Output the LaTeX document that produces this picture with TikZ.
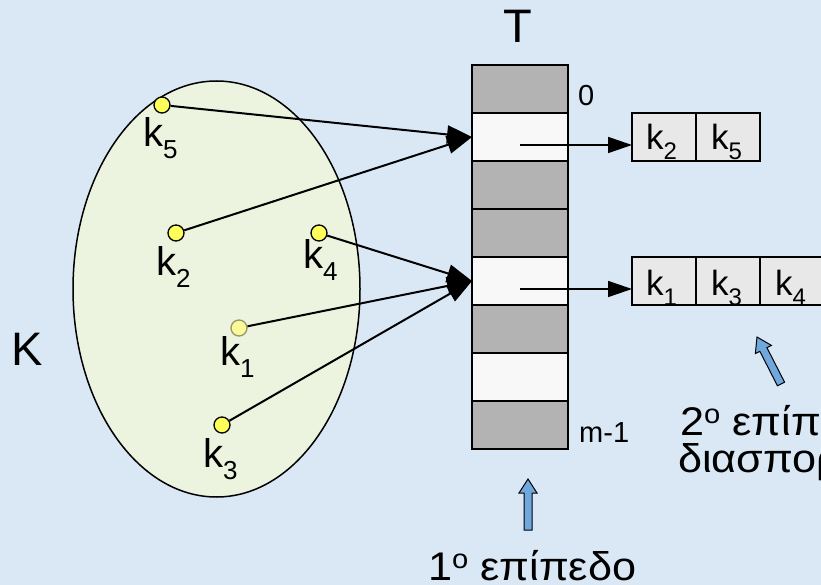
\documentclass[tikz,border=0pt]{standalone}
\usepackage{fontspec}
\setmainfont{Liberation Sans}
\usetikzlibrary{arrows.meta,calc,shapes.geometric}

\definecolor{bg}{RGB}{218,232,246}
\definecolor{ellfill}{RGB}{236,243,222}
\definecolor{rowgrey}{RGB}{179,179,179}
\definecolor{rowwhite}{RGB}{248,248,248}
\definecolor{cellgrey}{RGB}{232,232,232}
\definecolor{dotyellow}{RGB}{255,255,90}
\definecolor{dotpale}{RGB}{250,250,150}
\definecolor{dotrim}{RGB}{150,150,110}
\definecolor{blockblue}{RGB}{111,168,220}

% key in the set K (larger) and key in an overflow cell
\newcommand\ekey[1]{k\raisebox{-12pt}{\fontsize{26}{26}\selectfont #1}}
\newcommand\ckey[1]{k\raisebox{-10pt}{\fontsize{24}{24}\selectfont #1}}
\newcommand\supo{\raisebox{12pt}{\fontsize{27}{27}\selectfont ο}}

\newcommand\blockarr[2]{%
  \path (#1) coordinate (ba-tip) (#2) coordinate (ba-tail);
  \path ($(ba-tip)!14pt!(ba-tail)$) coordinate (ba-hb);
  \draw[blockarrow] (ba-tip)
    -- ($(ba-hb)!9pt!90:(ba-tip)$)
    -- ($(ba-hb)!4pt!90:(ba-tip)$)
    -- ($(ba-tail)!4pt!90:(ba-hb)$)
    -- ($(ba-tail)!4pt!-90:(ba-hb)$)
    -- ($(ba-hb)!4pt!-90:(ba-tip)$)
    -- ($(ba-hb)!9pt!-90:(ba-tip)$)
    -- cycle;}

\tikzset{
  rowbox/.style={draw=black, line width=2.2pt, minimum width=96pt, minimum height=48pt,
    inner sep=0pt, outer sep=0pt, anchor=north west},
  greyrow/.style={rowbox, fill=rowgrey},
  whiterow/.style={rowbox, fill=rowwhite},
  cellbox/.style={draw=black, line width=2pt, fill=cellgrey, minimum width=64pt,
    minimum height=48pt, inner sep=0pt, outer sep=0pt, anchor=north west},
  keydot/.style={circle, draw=black, line width=1.3pt, fill=dotyellow, minimum size=16pt,
    inner sep=0pt},
  paledot/.style={keydot, draw=dotrim, fill=dotpale},
  elbl/.style={anchor=base west, inner sep=0pt, font=\fontsize{40}{44}\selectfont},
  clbl/.style={anchor=base west, inner sep=0pt, font=\fontsize{35}{40}\selectfont},
  biglbl/.style={anchor=base west, inner sep=0pt, font=\fontsize{47}{52}\selectfont},
  idxlbl/.style={anchor=base west, inner sep=0pt, font=\fontsize{29}{32}\selectfont},
  caption/.style={anchor=base west, inner sep=0pt,
    font=\fontsize{40}{40}\selectfont\addfontfeatures{FakeStretch=1.08}},
  bigarrow/.style={line width=2pt, -{Triangle[length=25pt,width=18pt]}},
  ptrarrow/.style={line width=1.6pt, -{Triangle[length=24pt,width=16pt]}},
  blockarrow/.style={draw=black, line width=1pt, fill=blockblue, line join=miter},
}

\begin{document}
\begin{tikzpicture}[x=1pt,y=-1pt]
\useasboundingbox (0,0) rectangle (821,585);
\clip (0,0) rectangle (821,585);
\fill[bg] (0,0) rectangle (821,585);

% set K
\node[draw=black, line width=1.5pt, fill=ellfill, ellipse, minimum width=287pt,
  minimum height=416pt, inner sep=0pt] (Kset) at (216.5,289) {};
\node[biglbl] (Klbl) at (11,365) {K};

% table T
\node[greyrow]  (r0) at (472,65)  {};
\node[whiterow] (r1) at (472,113) {};
\node[greyrow]  (r2) at (472,161) {};
\node[greyrow]  (r3) at (472,209) {};
\node[whiterow] (r4) at (472,257) {};
\node[greyrow]  (r5) at (472,305) {};
\node[whiterow] (r6) at (472,353) {};
\node[greyrow]  (r7) at (472,401) {};
\node[biglbl] (Tlbl) at (503,43) {T};
\node[idxlbl] (zero) at (578,106) {0};
\node[idxlbl] (mone) at (579,442) {m-1};

% keys
\node[keydot] (d5) at (162,105) {};
\node[keydot] (d2) at (176,233) {};
\node[keydot] (d4) at (319,233) {};
\node[paledot] (d1) at (239,328) {};
\node[keydot] (d3) at (222,425) {};
\node[elbl] (l5) at (143,147) {\ekey{5}};
\node[elbl] (l2) at (156,275) {\ekey{2}};
\node[elbl] (l4) at (303,268) {\ekey{4}};
\node[elbl] (l1) at (220,365) {\ekey{1}};
\node[elbl] (l3) at (203,467) {\ekey{3}};

\draw[bigarrow] (d5) -- (r1.west);
\draw[bigarrow] (d2) -- (r1.west);
\draw[bigarrow] (d4) -- (r4.west);
\draw[bigarrow] (d1) -- (r4.west);
\draw[bigarrow] (d3) -- (r4.west);

% overflow lists
\node[cellbox] (c11) at (632,113) {};
\node[cellbox] (c12) at (696,113) {};
\node[cellbox] (c21) at (632,257) {};
\node[cellbox] (c22) at (696,257) {};
\node[cellbox] (c23) at (760,257) {};
\node[clbl] (t11) at (646,150) {\ckey{2}};
\node[clbl] (t12) at (711,150) {\ckey{5}};
\node[clbl] (t21) at (646,295) {\ckey{1}};
\node[clbl] (t22) at (711,295) {\ckey{3}};
\node[clbl] (t23) at (775,295) {\ckey{4}};

\coordinate (p1) at (520,145);
\coordinate (p2) at (520,289);
\draw[ptrarrow] (p1) -- (p1 -| c11.west);
\draw[ptrarrow] (p2) -- (p2 -| c21.west);

% captions
\blockarr{528,479}{528,530}
\blockarr{757,337}{781,384}
\node[caption] (cap1) at (428,580) {1\supo{} επίπεδο};
\node[caption] (cap2a) at (680,435) {2\supo{} επίπεδο};
\node[caption] (cap2b) at (678,472) {διασποράς};
\end{tikzpicture}
\end{document}
